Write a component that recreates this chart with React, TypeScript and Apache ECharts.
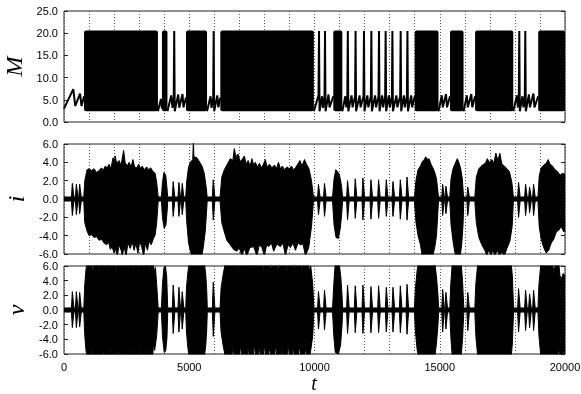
import React, { useEffect, useRef } from "react";
import * as echarts from "echarts";

// ---------- axes ----------
const xTicks = [0, 5000, 10000, 15000, 20000];
const xGridStep = 1000;
const mTicks = [0, 5, 10, 15, 20, 25];
const ivTicks = [-6, -4, -2, 0, 2, 4, 6];
const xTitle = "t";

// ---------- M panel ----------
// bursting intervals [start, end]
const mBursts: number[][] = [
  [800, 3750], [3910, 4130], [4870, 5710], [6240, 9975], [10750, 11110],
  [14000, 14950], [15410, 15950], [16410, 17935], [18930, 20000],
];
const mBurstRange = [2.4, 20.6];
// quiet trajectory (sawtooth + isolated spikes) between bursts
const mQuietSegments: number[][][] = [
  [[0, 3.0], [370, 7.4], [450, 3.6], [640, 6.4], [700, 3.6], [800, 5.8]],
  [[3750, 2.4], [3870, 5.2], [3910, 3.0]],
  [[4130, 2.4], [4280, 6.0], [4330, 3.2], [4380, 5.5], [4400, 20.5], [4420, 2.4], [4560, 6.2], [4600, 3.2], [4730, 6.3], [4770, 3.3], [4870, 5.5]],
  [[5710, 2.4], [5850, 5.8], [5890, 3.2], [5955, 5.5], [5975, 20.5], [5995, 2.4], [6120, 6.0], [6160, 3.3], [6240, 5.5]],
  [[9975, 2.4], [10160, 6.0], [10180, 20.5], [10200, 2.4], [10300, 5.8], [10340, 3.2], [10400, 5.8], [10420, 20.5], [10440, 2.4], [10560, 6.2], [10600, 3.3], [10750, 5.8]],
  [[11110, 2.4], [11230, 5.8], [11270, 3.3], [11310, 5.5], [11330, 20.5], [11350, 2.4], [11480, 6.0], [11520, 3.3], [11620, 5.8], [11640, 20.5], [11660, 2.4],
   [11800, 6.0], [11840, 3.3], [11955, 5.8], [11975, 20.5], [11995, 2.4], [12110, 6.0], [12150, 3.3], [12250, 5.8], [12270, 20.5], [12290, 2.4],
   [12420, 6.0], [12460, 3.3], [12555, 5.8], [12575, 20.5], [12595, 2.4], [12700, 6.0], [12740, 3.3], [12820, 5.8], [12840, 20.5], [12860, 2.4],
   [12970, 6.0], [13010, 3.3], [13090, 5.8], [13110, 20.5], [13130, 2.4], [13270, 6.0], [13310, 3.3], [13420, 5.8], [13440, 20.5], [13460, 2.4],
   [13570, 6.0], [13610, 3.3], [13690, 5.8], [13710, 20.5], [13730, 2.4], [13860, 6.0], [13900, 3.3], [14000, 5.8]],
  [[14950, 2.4], [15080, 6.0], [15120, 3.3], [15250, 6.3], [15290, 3.3], [15410, 5.8]],
  [[15950, 2.4], [16080, 6.0], [16120, 3.3], [16260, 6.3], [16300, 3.3], [16410, 5.8]],
  [[17935, 2.4], [18080, 6.0], [18120, 3.3], [18155, 5.5], [18175, 20.5], [18195, 2.4], [18300, 5.8], [18340, 3.3], [18395, 5.5], [18415, 20.5], [18435, 2.4],
   [18560, 6.2], [18600, 3.3], [18740, 6.4], [18780, 3.3], [18930, 5.8]],
];

// ---------- i panel ----------
const iQuiet = 0.22;
const iBurstTop: number[][] = [
  [790, 0.22], [830, 2.0], [920, 3.2], [1000, 3.3], [1100, 3.1], [1200, 3.3], [1300, 2.9], [1400, 3.1], [1500, 3.4], [1560, 3.1], [1650, 3.6], [1720, 3.4],
  [1800, 3.8], [1870, 3.3], [1960, 4.5], [2000, 3.8], [2040, 4.7], [2100, 3.9], [2200, 4.2], [2250, 3.7], [2310, 4.2], [2380, 5.3], [2440, 4.0], [2520, 3.6],
  [2600, 4.0], [2680, 3.5], [2750, 4.3], [2820, 3.5], [2900, 3.4], [2980, 3.8], [3060, 3.3], [3120, 3.6], [3200, 3.2], [3300, 3.5], [3380, 3.2], [3460, 3.4],
  [3550, 3.0], [3640, 2.8], [3700, 1.8], [3760, 0.22],
  [3890, 0.22], [3930, 1.8], [3990, 2.9], [4060, 2.6], [4110, 1.2], [4140, 0.22],
  [4860, 0.22], [4900, 2.0], [4973, 3.5], [5040, 4.0], [5140, 4.3], [5165, 6.5], [5185, 4.6], [5307, 4.5], [5420, 4.0], [5507, 3.6], [5600, 2.8], [5680, 1.2], [5715, 0.22],
  [6230, 0.22], [6300, 2.4], [6400, 3.2], [6500, 3.7], [6640, 4.4], [6740, 4.2], [6800, 5.5], [6860, 4.6], [6950, 4.9], [7030, 4.1], [7110, 4.3], [7200, 4.7],
  [7270, 3.8], [7350, 4.2], [7430, 3.6], [7500, 4.4], [7560, 3.8], [7640, 4.0], [7720, 3.5], [7800, 3.9], [7880, 3.4], [7960, 3.8], [8040, 4.3], [8100, 3.5],
  [8200, 3.8], [8300, 3.4], [8400, 3.7], [8480, 3.3], [8560, 4.0], [8640, 3.3], [8720, 3.6], [8800, 3.2], [8900, 3.5], [9000, 3.3], [9080, 3.6], [9160, 3.2],
  [9240, 3.4], [9330, 3.8], [9420, 4.2], [9500, 3.6], [9600, 4.3], [9680, 3.8], [9780, 3.3], [9880, 2.0], [9960, 0.22],
  [10720, 0.22], [10780, 2.2], [10850, 3.2], [10920, 3.0], [11000, 2.6], [11080, 1.4], [11120, 0.22],
  [13990, 0.22], [14050, 2.0], [14133, 3.2], [14230, 3.6], [14307, 4.1], [14380, 4.3], [14440, 4.6], [14520, 4.3], [14573, 4.4], [14650, 3.8], [14707, 3.5],
  [14790, 3.0], [14870, 2.2], [14950, 0.22],
  [15400, 0.22], [15450, 2.2], [15530, 3.3], [15620, 3.9], [15700, 4.4], [15760, 4.0], [15830, 3.4], [15900, 2.2], [15950, 0.22],
  [16400, 0.22], [16460, 2.4], [16560, 3.3], [16700, 3.7], [16820, 3.9], [16900, 4.4], [16980, 4.0], [17080, 4.3], [17160, 3.9], [17240, 5.0], [17320, 4.2],
  [17400, 5.0], [17480, 3.8], [17580, 3.6], [17680, 3.3], [17780, 3.0], [17880, 1.8], [17940, 0.22],
  [18920, 0.22], [18970, 2.5], [19050, 3.4], [19150, 3.7], [19250, 3.9], [19330, 4.3], [19400, 3.8], [19500, 3.6], [19600, 3.2], [19700, 3.0], [19800, 2.6],
  [19900, 2.8], [20000, 2.7],
];
const iBurstBottom: number[][] = [
  [790, -0.22], [830, -2.6], [920, -3.5], [1000, -4.0], [1100, -3.9], [1200, -4.2], [1300, -4.1], [1400, -4.5], [1500, -4.4], [1600, -4.8], [1700, -5.0],
  [1780, -4.7], [1850, -5.5], [1920, -5.2], [2000, -5.9], [2050, -5.4], [2130, -6.2], [2200, -5.0], [2280, -5.6], [2330, -6.2], [2400, -5.2], [2480, -6.2],
  [2550, -4.8], [2650, -5.4], [2720, -4.6], [2800, -5.6], [2870, -4.8], [2950, -5.9], [3020, -4.6], [3100, -5.2], [3180, -6.2], [3250, -4.8], [3330, -5.6],
  [3400, -4.6], [3480, -5.0], [3560, -4.4], [3640, -3.9], [3700, -2.6], [3760, -0.22],
  [3890, -0.22], [3930, -2.0], [4000, -3.2], [4070, -2.8], [4120, -1.2], [4140, -0.22],
  [4860, -0.22], [4900, -2.5], [4973, -4.8], [5040, -5.6], [5107, -6.2], [5500, -6.2], [5560, -5.3], [5640, -3.5], [5700, -1.0], [5715, -0.22],
  [6230, -0.22], [6300, -2.6], [6380, -3.4], [6500, -4.5], [6640, -5.0], [6770, -5.5], [6900, -5.7], [7000, -5.3], [7100, -6.2], [7200, -5.4], [7300, -6.2],
  [7420, -5.3], [7570, -5.2], [7700, -6.2], [7800, -5.0], [7900, -5.3], [8000, -6.2], [8090, -5.0], [8170, -5.2], [8280, -4.8], [8370, -5.7], [8500, -4.9],
  [8640, -5.2], [8740, -4.8], [8840, -6.2], [8940, -5.0], [9040, -5.3], [9140, -4.8], [9240, -5.6], [9340, -4.8], [9440, -5.0], [9540, -4.9], [9640, -6.2],
  [9770, -5.3], [9880, -3.0], [9960, -0.22],
  [10720, -0.22], [10780, -2.8], [10860, -4.2], [10950, -4.3], [11030, -3.2], [11090, -1.5], [11120, -0.22],
  [13990, -0.22], [14050, -2.5], [14133, -4.0], [14230, -5.0], [14300, -6.2], [14720, -6.2], [14800, -5.3], [14870, -4.0], [14950, -0.22],
  [15400, -0.22], [15450, -2.8], [15530, -4.6], [15600, -5.8], [15650, -6.2], [15820, -6.2], [15880, -4.8], [15930, -2.8], [15960, -0.22],
  [16400, -0.22], [16460, -2.6], [16560, -4.2], [16680, -5.0], [16800, -5.6], [16880, -6.2], [16960, -5.5], [17040, -6.2], [17120, -5.6], [17200, -6.2],
  [17300, -5.6], [17380, -6.2], [17480, -5.8], [17580, -6.2], [17680, -5.4], [17800, -4.6], [17890, -3.0], [17940, -0.22],
  [18920, -0.22], [18970, -3.0], [19050, -4.4], [19150, -5.3], [19250, -5.9], [19350, -5.6], [19450, -4.8], [19550, -4.4], [19650, -3.6], [19750, -3.4],
  [19850, -3.0], [19950, -3.6], [20000, -3.4],
];
// isolated oscillation bumps [t, top, bottom]
const iBumps: number[][] = [
  [347, 1.7, -1.8], [507, 1.6, -1.7], [640, 1.6, -1.6],
  [4373, 1.9, -1.9], [4600, 1.8, -1.9], [4733, 1.7, -1.7],
  [5973, 2.1, -2.3],
  [10173, 1.6, -1.7], [10413, 1.7, -1.9],
  [11333, 2.0, -2.3], [11640, 2.2, -2.1], [11947, 2.3, -2.3], [12267, 2.1, -2.2], [12573, 2.1, -2.1], [12880, 2.1, -1.9], [13147, 1.9, -1.9],
  [13440, 2.1, -2.2], [13707, 2.4, -2.3],
  [15130, 1.6, -1.8], [15260, 1.4, -1.6],
  [16133, 1.3, -1.8],
  [18160, 1.8, -2.0], [18440, 1.6, -1.8], [18600, 1.3, -1.5], [18760, 1.6, -1.8],
];

// ---------- v panel ----------
const vQuiet = 0.28;
const vBurstTop: number[][] = [
  [790, 0.28], [830, 3.5], [880, 5.6], [930, 6.5], [1110, 6.5], [1150, 4.8], [1190, 6.5], [1370, 6.5], [1400, 5.0], [1430, 6.5], [1500, 6.5], [1530, 5.3],
  [1560, 6.5], [1770, 6.5], [1800, 5.2], [1830, 6.5], [2040, 6.5], [2080, 5.0], [2120, 6.5], [2530, 6.5], [2560, 5.4], [2590, 6.5], [2770, 6.5], [2800, 5.0],
  [2830, 6.5], [2940, 6.5], [2970, 5.3], [3000, 6.5], [3150, 6.5], [3180, 5.2], [3210, 6.5], [3270, 6.5], [3300, 5.5], [3330, 6.5], [3410, 6.5], [3440, 5.0],
  [3470, 6.5], [3560, 6.5], [3600, 5.2], [3650, 5.8], [3700, 3.5], [3760, 0.28],
  [3890, 0.28], [3930, 3.5], [3990, 5.8], [4050, 6.0], [4100, 4.5], [4140, 0.28],
  [4860, 0.28], [4890, 3.0], [4940, 5.0], [5000, 6.5], [5600, 6.5], [5660, 4.8], [5700, 2.5], [5720, 0.28],
  [6230, 0.28], [6270, 3.0], [6360, 5.0], [6450, 6.5], [6900, 6.5], [6950, 5.4], [7000, 6.5], [7500, 6.5], [7550, 5.5], [7600, 6.5], [7900, 6.5], [7950, 5.3],
  [8000, 6.5], [8200, 6.5], [8250, 5.4], [8300, 6.5], [8500, 6.5], [8550, 5.2], [8600, 6.5], [8850, 6.5], [8900, 5.3], [8950, 6.5], [9150, 6.5], [9200, 5.5],
  [9250, 6.5], [9450, 6.5], [9500, 5.2], [9550, 6.5], [9750, 6.5], [9800, 5.4], [9850, 6.0], [9930, 3.5], [9975, 0.28],
  [10720, 0.28], [10770, 3.5], [10830, 6.5], [10980, 6.5], [11050, 4.5], [11100, 2.0], [11120, 0.28],
  [13990, 0.28], [14030, 3.0], [14100, 5.5], [14160, 6.5], [14800, 6.5], [14870, 4.5], [14930, 2.0], [14955, 0.28],
  [15400, 0.28], [15440, 3.5], [15500, 6.5], [15850, 6.5], [15910, 4.0], [15960, 0.28],
  [16400, 0.28], [16440, 3.5], [16520, 6.5], [17850, 6.5], [17900, 4.5], [17945, 0.28],
  [18920, 0.28], [18960, 3.5], [19040, 6.5], [19500, 6.5], [19560, 5.0], [19620, 6.5], [19750, 6.5], [19800, 4.6], [19870, 4.4], [19930, 5.0], [20000, 4.6],
];
const vBurstBottom: number[][] = [
  [790, -0.28], [830, -3.5], [880, -5.6], [930, -6.5], [1080, -6.5], [1110, -5.0], [1140, -6.5], [1540, -6.5], [1570, -5.1], [1600, -6.5], [1810, -6.5],
  [1840, -5.2], [1870, -6.5], [2140, -6.5], [2170, -4.9], [2200, -6.5], [2610, -6.5], [2640, -5.1], [2670, -6.5], [3010, -6.5], [3040, -4.9], [3070, -6.5],
  [3280, -6.5], [3310, -5.2], [3340, -6.5], [3540, -6.5], [3570, -4.7], [3620, -5.5], [3700, -3.5], [3760, -0.28],
  [3890, -0.28], [3930, -3.5], [4000, -5.8], [4060, -5.6], [4110, -3.8], [4140, -0.28],
  [4860, -0.28], [4890, -3.0], [4940, -5.0], [5000, -6.5], [5600, -6.5], [5660, -4.8], [5700, -2.5], [5720, -0.28],
  [6230, -0.28], [6270, -3.0], [6360, -5.0], [6450, -6.5], [6700, -6.5], [6750, -4.9], [6800, -6.5], [7000, -6.5], [7050, -4.8], [7100, -6.5], [7300, -6.5],
  [7350, -5.0], [7400, -6.5], [7550, -6.5], [7600, -4.7], [7650, -6.5], [7750, -6.5], [7800, -5.1], [7850, -6.5], [7950, -6.5], [8000, -4.6], [8050, -6.5],
  [8150, -6.5], [8200, -5.0], [8250, -6.5], [8400, -6.5], [8450, -4.8], [8500, -6.5], [8650, -6.5], [8700, -5.2], [8750, -6.5], [8900, -6.5], [8950, -4.6],
  [9000, -6.5], [9100, -6.5], [9150, -5.0], [9200, -6.5], [9350, -6.5], [9400, -4.8], [9450, -6.5], [9600, -6.5], [9650, -5.1], [9700, -6.5], [9800, -6.5],
  [9850, -5.5], [9930, -3.5], [9975, -0.28],
  [10720, -0.28], [10770, -3.5], [10830, -5.8], [10950, -6.0], [11040, -4.8], [11100, -2.0], [11120, -0.28],
  [13990, -0.28], [14030, -3.0], [14100, -5.5], [14160, -6.5], [14800, -6.5], [14870, -4.5], [14930, -2.0], [14955, -0.28],
  [15400, -0.28], [15440, -3.5], [15500, -6.5], [15850, -6.5], [15910, -4.0], [15960, -0.28],
  [16400, -0.28], [16440, -3.5], [16520, -6.5], [17850, -6.5], [17900, -4.5], [17945, -0.28],
  [18920, -0.28], [18960, -3.5], [19040, -6.5], [19700, -6.5], [19750, -5.2], [19800, -6.5], [19900, -6.5], [19950, -5.5], [20000, -6.0],
];
const vBumps: number[][] = [
  [347, 2.5, -2.4], [507, 2.5, -2.4], [640, 2.4, -2.3],
  [4373, 3.4, -3.2], [4600, 3.1, -3.0], [4733, 2.5, -2.6],
  [5973, 3.8, -3.6],
  [10173, 2.5, -2.6], [10413, 2.7, -2.7],
  [11333, 3.4, -3.2], [11640, 3.3, -3.1], [11947, 3.4, -3.2], [12267, 3.2, -3.1], [12573, 3.3, -3.1], [12880, 3.1, -3.0], [13147, 3.1, -3.0],
  [13440, 3.3, -3.1], [13707, 3.5, -3.3],
  [15130, 2.8, -3.0], [15260, 2.4, -2.6],
  [16133, 2.4, -2.8],
  [18160, 2.9, -3.0], [18440, 2.7, -2.8], [18600, 2.2, -2.4], [18760, 2.7, -2.8],
];

// ---------- helpers to assemble the series data ----------
function envelope(burst: number[][], bumps: number[][], col: number, base: number): number[][] {
  const pts: number[][] = [[xTicks[0], base], ...burst];
  bumps.forEach((b) => {
    pts.push([b[0] - 50, base], [b[0] - 14, b[col]], [b[0] + 14, b[col]], [b[0] + 50, base]);
  });
  return pts.sort((a, b) => a[0] - b[0]);
}
function quietLine(): (number | string)[][] {
  const out: (number | string)[][] = [];
  mQuietSegments.forEach((seg, k) => {
    if (k > 0) out.push([seg[0][0] - 1, "-"]);
    seg.forEach((p) => out.push(p));
  });
  return out;
}

const FONT = "'Liberation Sans', Arial, Helvetica, sans-serif";
const SERIF = "'Liberation Serif', 'Times New Roman', serif";

export default function App() {
  const ref = useRef<HTMLDivElement>(null);
  useEffect(() => {
    if (!ref.current) return;
    const chart = echarts.init(ref.current, undefined, { renderer: "svg" });
    const grids = [
      { left: 64, top: 11, width: 501, height: 111 },
      { left: 64, top: 144, width: 501, height: 110 },
      { left: 64, top: 266, width: 501, height: 88 },
    ].map((g) => ({
      ...g,
      show: true,
      containLabel: false,
      outerBoundsMode: "none",
      borderColor: "#222",
      borderWidth: 1,
      backgroundColor: "transparent",
    }));

    const xAxes = [0, 1, 2].map((gi) => ({
      type: "value",
      gridIndex: gi,
      min: xTicks[0],
      max: xTicks[xTicks.length - 1],
      interval: xGridStep,
      axisLine: { show: false },
      axisTick: { show: false },
      splitLine: { show: true, lineStyle: { color: "#555", width: 1, type: [1, 2] } },
      axisLabel: {
        show: gi === 2,
        color: "#000",
        fontFamily: FONT,
        fontSize: 11,
        margin: 7,
        formatter: (v: number) => (xTicks.includes(v) ? String(v) : ""),
      },
    }));

    const yDefs = [
      { ticks: mTicks, name: "M" },
      { ticks: ivTicks, name: "i" },
      { ticks: ivTicks, name: "v" },
    ];
    const yAxes: any[] = [];
    yDefs.forEach((d, gi) => {
      const base = {
        type: "value",
        gridIndex: gi,
        min: d.ticks[0],
        max: d.ticks[d.ticks.length - 1],
        interval: d.ticks[1] - d.ticks[0],
        axisLine: { show: false },
        splitLine: { show: false },
        axisTick: { show: true, inside: true, length: 4, lineStyle: { color: "#222" } },
      };
      yAxes.push({
        ...base,
        position: "left",
        axisLabel: { color: "#000", fontFamily: FONT, fontSize: 11, margin: 6, formatter: (v: number) => v.toFixed(1) },
        name: d.name,
        nameLocation: "middle",
        nameRotate: 90,
        nameGap: 36,
        nameTextStyle: { fontFamily: SERIF, fontStyle: "italic", fontSize: 24, color: "#000" },
      });
      yAxes.push({ ...base, position: "right", axisLabel: { show: false } });
    });

    const bandStyle = {
      type: "line",
      symbol: "none",
      showSymbol: false,
      silent: true,
      lineStyle: { width: 1, color: "#000" },
      areaStyle: { color: "#000", opacity: 1 },
    };
    const zeroSeam = {
      type: "line",
      symbol: "none",
      showSymbol: false,
      silent: true,
      lineStyle: { width: 2, color: "#000" },
      data: [[xTicks[0], 0], [xTicks[xTicks.length - 1], 0]],
    };

    chart.setOption({
      animation: false,
      grid: grids,
      xAxis: xAxes,
      yAxis: yAxes,
      graphic: [
        {
          type: "text",
          x: 314,
          y: 373,
          style: {
            text: xTitle,
            fontFamily: SERIF,
            fontStyle: "italic",
            fontSize: 20,
            lineHeight: 20,
            fill: "#000",
            align: "center",
            verticalAlign: "top",
          },
        },
      ],
      series: [
        {
          type: "custom",
          xAxisIndex: 0,
          yAxisIndex: 0,
          silent: true,
          clip: true,
          data: mBursts.map((b) => [b[0], b[1], mBurstRange[0], mBurstRange[1]]),
          encode: { x: [0, 1], y: [2, 3] },
          renderItem: (_p: any, api: any) => {
            const a = api.coord([api.value(0), api.value(3)]);
            const b = api.coord([api.value(1), api.value(2)]);
            return {
              type: "rect",
              shape: { x: a[0], y: a[1], width: b[0] - a[0], height: b[1] - a[1], r: 2 },
              style: { fill: "#000" },
            };
          },
        },
        {
          type: "line",
          xAxisIndex: 0,
          yAxisIndex: 0,
          symbol: "none",
          showSymbol: false,
          silent: true,
          connectNulls: false,
          lineStyle: { width: 2, color: "#000" },
          data: quietLine(),
        },
        { ...bandStyle, xAxisIndex: 1, yAxisIndex: 2, data: envelope(iBurstTop, iBumps, 1, iQuiet) },
        { ...bandStyle, xAxisIndex: 1, yAxisIndex: 2, data: envelope(iBurstBottom, iBumps, 2, -iQuiet) },
        { ...zeroSeam, xAxisIndex: 1, yAxisIndex: 2 },
        { ...bandStyle, xAxisIndex: 2, yAxisIndex: 4, data: envelope(vBurstTop, vBumps, 1, vQuiet) },
        { ...bandStyle, xAxisIndex: 2, yAxisIndex: 4, data: envelope(vBurstBottom, vBumps, 2, -vQuiet) },
        { ...zeroSeam, xAxisIndex: 2, yAxisIndex: 4 },
      ],
    });
    return () => chart.dispose();
  }, []);
  return <div ref={ref} style={{ position: "fixed", left: 0, top: 0, width: 581, height: 394 }} />;
}
